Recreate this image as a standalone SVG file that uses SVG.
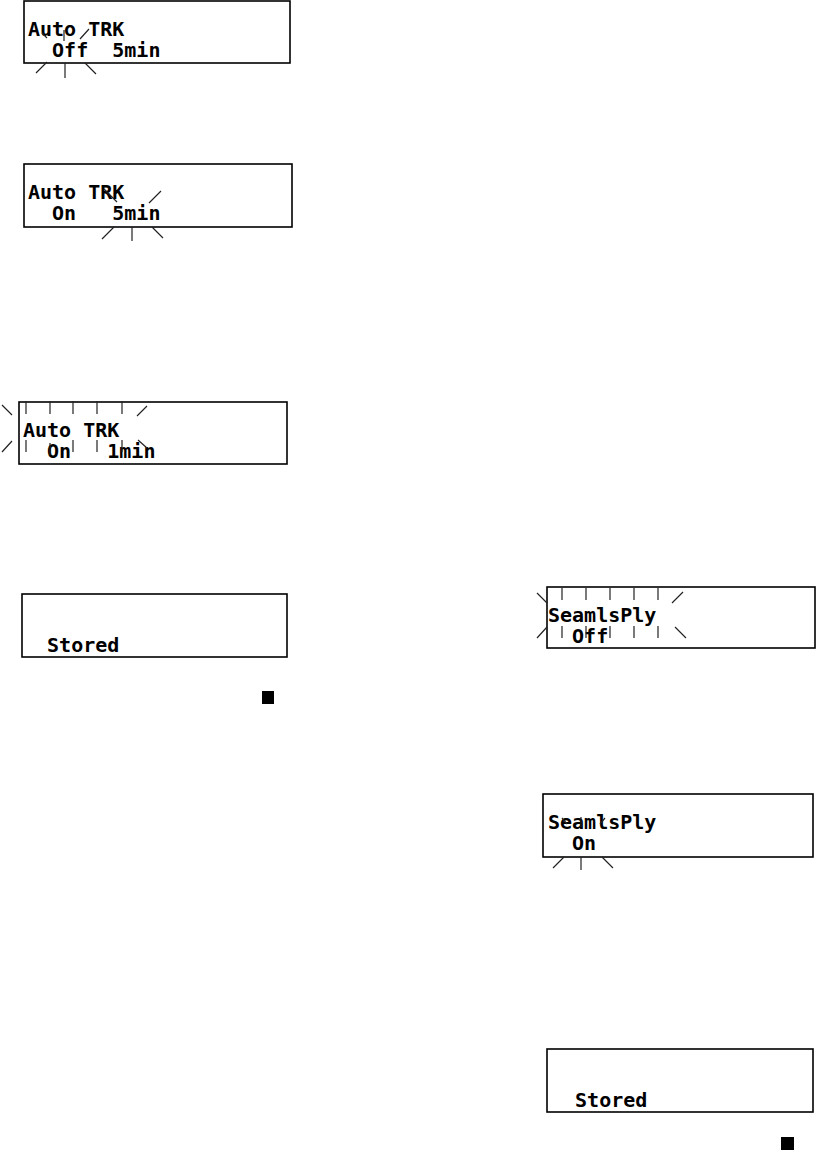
<svg xmlns="http://www.w3.org/2000/svg" width="816" height="1157" viewBox="0 0 816 1157">
<style>
.box{fill:#fff;stroke:#000;stroke-width:1.6}
.lcd{font-family:"DejaVu Sans Mono","Liberation Mono",monospace;font-size:20px;font-weight:bold;fill:#000;white-space:pre}
.fl{stroke:#222;stroke-width:1.2;fill:none}
</style>
<rect width="816" height="1157" fill="#fff"/>
<g id="display1">
<rect class="box" x="24" y="1" width="266" height="62"/>
<text class="lcd" xml:space="preserve"><tspan x="28" y="36">Auto TRK</tspan><tspan x="28" y="57">  Off  5min</tspan></text>
<path class="fl" d="M42 33L47 38M64 30V41M80 39L89 29M36 73L47 62M65 63V78M85 63L96 74"/>
</g>
<g id="display2">
<rect class="box" x="24" y="164" width="268" height="63"/>
<text class="lcd" xml:space="preserve"><tspan x="28" y="199">Auto TRK</tspan><tspan x="28" y="220">  On   5min</tspan></text>
<path class="fl" d="M104 189L117 202M149 203L161 191M102 239L114 227M132 227V241M152 227L163 238"/>
</g>
<g id="display3">
<rect class="box" x="19" y="402" width="268" height="62"/>
<text class="lcd" xml:space="preserve"><tspan x="23" y="437">Auto TRK</tspan><tspan x="23" y="458">  On   1min</tspan></text>
<path class="fl" d="M2 405L12 415M26 401V414M50 401V414M73 401V414M97 401V414M122 401V414M137 416L147 406M2 452L12 441M26 440V452M50 443V455M73 440V452M97 440V452M122 440V452M138 440L147 448"/>
</g>
<g id="display4">
<rect class="box" x="22" y="594" width="265" height="63"/>
<text class="lcd" x="23" y="652" xml:space="preserve">  Stored</text>
<rect x="262" y="691" width="12" height="13" fill="#000"/>
</g>
<g id="display5">
<rect class="box" x="547" y="587" width="268" height="61"/>
<text class="lcd" xml:space="preserve"><tspan x="548" y="622">SeamlsPly</tspan><tspan x="548" y="643">  Off</tspan></text>
<path class="fl" d="M537 593L547 603M562 588V600M586 588V600M610 588V600M634 588V600M658 588V600M672 603L683 592M537 638L547 627M562 626V638M586 626V638M610 626V638M634 626V638M658 626V638M675 627L686 638"/>
</g>
<g id="display6">
<rect class="box" x="543" y="794" width="270" height="63"/>
<text class="lcd" xml:space="preserve"><tspan x="548" y="829">SeamlsPly</tspan><tspan x="548" y="850">  On</tspan></text>
<path class="fl" d="M562 818L567 824M581 817V827M600 824L605 818M553 868L564 857M581 857V870M602 857L613 868"/>
</g>
<g id="display7">
<rect class="box" x="547" y="1049" width="266" height="63"/>
<text class="lcd" x="551" y="1107" xml:space="preserve">  Stored</text>
<rect x="781" y="1137" width="13" height="13" fill="#000"/>
</g>
</svg>
